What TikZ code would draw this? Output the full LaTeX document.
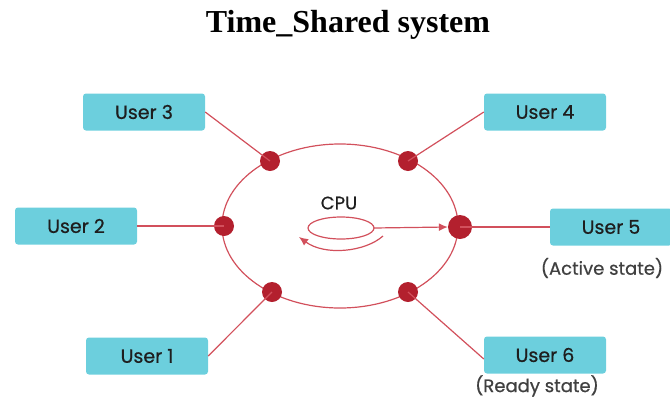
\documentclass[tikz,border=0pt]{standalone}
\usepackage{fontspec}
\setmainfont{Liberation Serif}
\newfontfamily\boxfont{Poppins}[FakeBold=0.6]
\usetikzlibrary{arrows.meta}
\definecolor{dotred}{HTML}{B3202E}
\definecolor{linered}{HTML}{D2505C}
\definecolor{boxcyan}{HTML}{6CCFDD}
\definecolor{txt}{HTML}{1E1E1E}
\tikzset{
  userbox/.style={fill=boxcyan, rounded corners=3pt, minimum width=122pt, minimum height=37pt, inner sep=0pt, font=\boxfont\fontsize{19}{19}\selectfont, text=txt},
  reddot/.style={circle, fill=dotred, minimum size=20pt, inner sep=0pt},
  conn/.style={draw=linered, line width=1.2pt},
  note/.style={font=\boxfont\fontsize{18}{18}\selectfont, text=txt!85}
}
\begin{document}
\begin{tikzpicture}[x=1pt,y=-1pt]
\useasboundingbox (0,0) rectangle (670,397);
\node[font=\bfseries\fontsize{32}{32}\selectfont] (title) at (348,25) {Time\_Shared system};
\draw[conn] (340,226) ellipse [x radius=118, y radius=82];
\node[reddot] (d3) at (270,161) {};
\node[reddot] (d4) at (408,161) {};
\node[reddot] (d2) at (224,226) {};
\node[reddot, minimum size=24pt] (d5) at (460,227) {};
\node[reddot] (d1) at (272,292) {};
\node[reddot] (d6) at (408,292) {};
\node[userbox] (u3) at (144,112) {User 3};
\node[userbox] (u4) at (545,112) {User 4};
\node[userbox] (u2) at (76,226) {User 2};
\node[userbox] (u5) at (611,227) {User 5};
\node[userbox] (u1) at (147,356) {User 1};
\node[userbox] (u6) at (545,355) {User 6};
\node[note] (a5) at (602,268) {(Active state)};
\node[note] (r6) at (537,386) {(Ready state)};
\draw[conn] (u3.east) -- (d3.center);
\draw[conn] (d4.center) -- (u4.west);
\draw[conn] (u2.east) -- (d2.center);
\draw[conn] (d5.center) -- (u5.west);
\draw[conn] (u1.east) -- (d1.center);
\draw[conn] (d6.center) -- ([yshift=-4pt]u6.west);
\node[font=\boxfont\fontsize{18}{18}\selectfont, text=txt] (cpu) at (339,203) {CPU};
\draw[conn] (341,228) ellipse [x radius=33, y radius=11];
\coordinate (cr) at (374,228);
\draw[conn, -{Latex[length=9pt,width=8pt]}] (cr) -- (d5.west);
\coordinate (rs) at (383,236);
\coordinate (re) at (299,237);
\draw[conn, -{Latex[length=9pt,width=8pt]}] (rs) .. controls (365,252) and (325,256) .. (re);
\end{tikzpicture}
\end{document}
